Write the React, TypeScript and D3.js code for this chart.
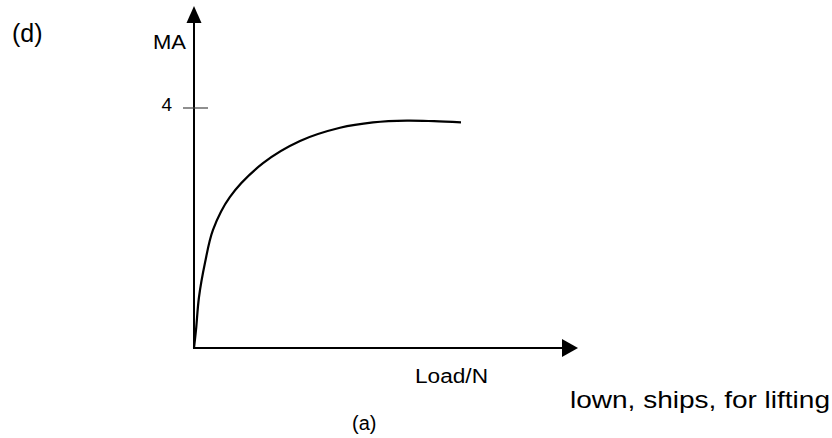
import React from 'react';
import * as d3 from 'd3';

// MA against load (load in arbitrary units)
const loads = [0, 2, 5, 11, 19, 36, 69, 106, 146, 179, 213, 240, 267];
const maValues = [0, 0.3, 0.85, 1.42, 1.97, 2.52, 3.08, 3.45, 3.67, 3.76, 3.79, 3.78, 3.76];
const yTicks = [4];

const width = 832;
const height = 438;
const font = '"Liberation Sans", Arial, sans-serif';

const App: React.FC = () => {
  const x = d3.scaleLinear().domain([0, 384]).range([194, 578]);
  const y = d3.scaleLinear().domain([0, 4]).range([348, 108]);

  const pts = loads.map((l, i) => ({ l, m: maValues[i] }));
  const line = d3
    .line<{ l: number; m: number }>()
    .curve(d3.curveCatmullRom.alpha(0.5))
    .x((d) => x(d.l))
    .y((d) => y(d.m));

  const x0 = x(0);
  const y0 = y(0);

  return (
    <svg
      width={width}
      height={height}
      style={{ position: 'absolute', left: 0, top: 0, background: '#fff' }}
    >
      <text x={12} y={42} fontFamily={font} fontSize={25} fill="#000">
        (d)
      </text>

      {/* y axis with arrow */}
      <line x1={x0} y1={y0 + 1} x2={x0} y2={22} stroke="#000" strokeWidth={2} />
      <path d={`M${x0},6 L${x0 - 7.5},23 L${x0 + 7.5},23 Z`} fill="#000" />
      <text x={153} y={49} fontFamily={font} fontSize={21} fill="#000" textLength={33} lengthAdjust="spacingAndGlyphs">
        MA
      </text>

      {yTicks.map((t) => (
        <g key={t}>
          <line x1={x0 - 11} x2={x0 + 14} y1={y(t)} y2={y(t)} stroke="#444" strokeWidth={1.2} />
          <text x={172} y={y(t) + 3} textAnchor="end" fontFamily={font} fontSize={19} fill="#000">
            {t}
          </text>
        </g>
      ))}

      {/* x axis with arrow */}
      <line x1={x0 - 1} y1={y0} x2={563} y2={y0} stroke="#000" strokeWidth={2} />
      <path d={`M578,${y0} L562,${y0 - 9} L562,${y0 + 9} Z`} fill="#000" />
      <text x={415} y={383} fontFamily={font} fontSize={20} fill="#000" textLength={73} lengthAdjust="spacingAndGlyphs">
        Load/N
      </text>

      <path d={line(pts) || ''} fill="none" stroke="#000" strokeWidth={2.2} />

      <text x={352} y={430} fontFamily={font} fontSize={20} fill="#000">
        (a)
      </text>
      <text x={570} y={408} fontFamily={font} fontSize={24} fill="#000" textLength={260} lengthAdjust="spacingAndGlyphs">
        lown, ships, for lifting
      </text>
    </svg>
  );
};

export default App;
